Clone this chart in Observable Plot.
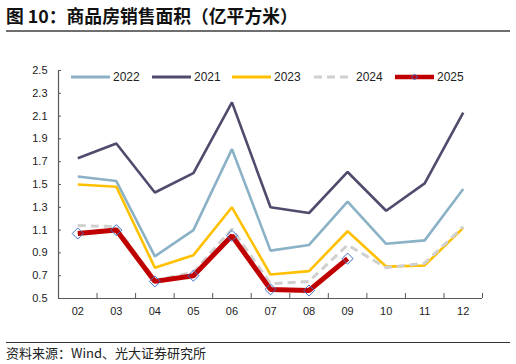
<!DOCTYPE html>
<html><head><meta charset="utf-8">
<script src="https://cdn.jsdelivr.net/npm/d3@7"></script>
<script src="https://cdn.jsdelivr.net/npm/@observablehq/plot@0.6"></script>
<style>
body{margin:0;background:#fff;}
#wrap{position:relative;width:516px;height:364px;overflow:hidden;background:#fff;}
#title{position:absolute;left:6px;top:4px;font:bold 17.8px "Noto Sans CJK SC";color:#111;white-space:nowrap;line-height:22px;}
#tline{position:absolute;left:6px;top:30px;width:504px;height:0;border-top:2px solid #6e6e6e;}
#chart{position:absolute;left:0;top:40px;}
#legend{position:absolute;left:0;top:70px;width:516px;height:14px;}
.item{position:absolute;top:0;height:14px;display:flex;align-items:center;font:12px "Liberation Sans",Arial,sans-serif;color:#222;}
.item svg{margin-right:3px;}
#cline{position:absolute;left:6px;top:342px;width:504px;height:0;border-top:1px solid #333;}
#caption{position:absolute;left:6px;top:344px;font:13px "Noto Sans CJK SC";color:#222;white-space:nowrap;line-height:17px;}
</style>
</head><body>
<div id="wrap">
  <div id="title">图 10：商品房销售面积（亿平方米）</div>
  <div id="tline"></div>
  <div id="chart"></div>
  <div id="legend"></div>
  <div id="cline"></div>
  <div id="caption">资料来源：Wind、光大证券研究所</div>
</div>
<script>
const months = ["02","03","04","05","06","07","08","09","10","11","12"];
const yTicks = [0.5,0.7,0.9,1.1,1.3,1.5,1.7,1.9,2.1,2.3,2.5];
const seriesNames = ["2022","2021","2023","2024","2025"];
const v2022 = [1.57,1.53,0.87,1.10,1.81,0.92,0.97,1.35,0.98,1.01,1.46];
const v2021 = [1.73,1.86,1.43,1.60,2.22,1.30,1.25,1.61,1.27,1.51,2.13];
const v2023 = [1.50,1.48,0.77,0.88,1.30,0.71,0.74,1.09,0.78,0.79,1.12];
const v2024 = [1.14,1.13,0.66,0.73,1.11,0.63,0.65,0.97,0.77,0.81,1.13];
const v2025 = [1.07,1.10,0.65,0.70,1.05,0.58,0.57,0.85];

const colors = {"2022":"#8AB1C5","2021":"#4F4B6D","2023":"#FFC000","2024":"#D0D0D0","2025":"#C00000"};
const widths = {"2022":2.6,"2021":2.6,"2023":2.6,"2024":3,"2025":5};
const dashes = {"2024":"8,5"};
const valuesBy = {"2022":v2022,"2021":v2021,"2023":v2023,"2024":v2024,"2025":v2025};

const rows = [];
for (const s of seriesNames) valuesBy[s].forEach((v,i)=>rows.push({series:s,i,month:months[i],value:v}));

const bounds = d3.range(12).map(k=>k-0.5);

const chart = Plot.plot({
  width:516, height:290,
  marginTop:30, marginBottom:32, marginLeft:58, marginRight:34,
  x:{type:"linear", domain:[-0.5,10.5]},
  y:{domain:[0.5,2.5]},
  style:{fontFamily:"'Liberation Sans',Arial,sans-serif", fontSize:"11px", color:"#222", background:"transparent"},
  marks:[
    Plot.axisY({ticks:yTicks, tickFormat:d=>d.toFixed(1), tickSize:-3, tickPadding:14, label:null, stroke:"#595959"}),
    Plot.axisX({ticks:d3.range(months.length), tickFormat:i=>months[i], tickSize:0, tickPadding:9, label:null}),
    Plot.axisX({ticks:bounds, tickFormat:()=>"", tickSize:-5, label:null, stroke:"#595959"}),
    Plot.ruleY([0.5],{stroke:"#595959", strokeWidth:1.2}),
    Plot.ruleX([-0.5],{stroke:"#595959", strokeWidth:1.2}),
    ...seriesNames.map(s=>Plot.line(rows.filter(r=>r.series===s),{
      x:"i", y:"value", stroke:colors[s], strokeWidth:widths[s],
      strokeDasharray:dashes[s]||null, strokeLinejoin:"miter", strokeLinecap:"butt"
    })),
    Plot.dot(rows.filter(r=>r.series==="2025"),{x:"i", y:"value", symbol:"diamond2", r:5, stroke:"#4472C4", strokeWidth:1, fill:"none"})
  ]
});
document.getElementById("chart").appendChild(chart);

const legendX = [71,152,232,314,395];
const leg = document.getElementById("legend");
seriesNames.forEach((s,k)=>{
  const d = document.createElement("div");
  d.className = "item";
  d.style.left = legendX[k]+"px";
  const dash = dashes[s] ? `stroke-dasharray="${dashes[s]}"` : "";
  const marker = s==="2025" ? `<path d="M19.5,4 L22.5,7 L19.5,10 L16.5,7 Z" fill="none" stroke="#4472C4" stroke-width="1"/>` : "";
  d.innerHTML = `<svg width="39" height="14"><line x1="0" y1="7" x2="39" y2="7" stroke="${colors[s]}" stroke-width="${s==="2025"?4.5:3}" ${dash}/>${marker}</svg><span>${s}</span>`;
  leg.appendChild(d);
});
</script>
</body></html>
